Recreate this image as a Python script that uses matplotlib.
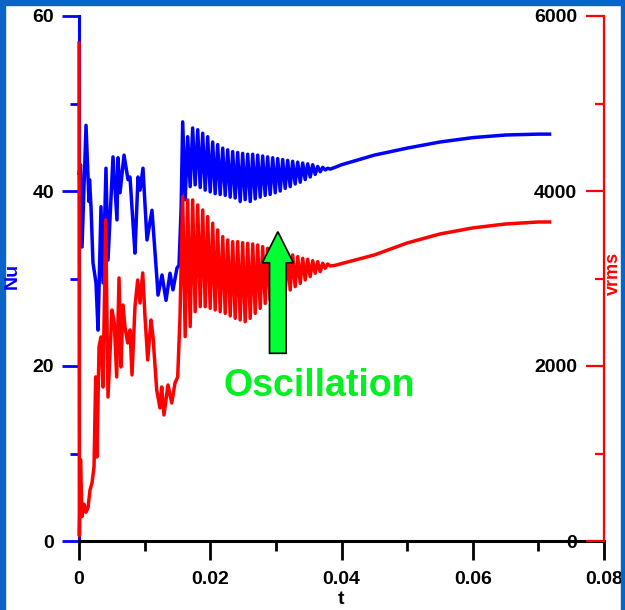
import numpy as np
import matplotlib
matplotlib.use('Agg')
import matplotlib.pyplot as plt
from matplotlib.patches import FancyArrow, Rectangle

plt.rcParams['font.family'] = ['Liberation Sans', 'DejaVu Sans']
plt.rcParams['font.weight'] = 'bold'

# early (chaotic) part
t_nu_early = [0.0, 0.00023, 0.00046, 0.00107, 0.00152, 0.00160, 0.00183, 0.00213, 0.00259,
              0.00290, 0.00335, 0.00366, 0.00411, 0.00442, 0.00518, 0.00579, 0.00594, 0.00625,
              0.00686, 0.00747, 0.00777, 0.00823, 0.00853, 0.00899, 0.00930, 0.00975, 0.01036,
              0.01112, 0.01189, 0.01204, 0.01265, 0.01326, 0.01387, 0.01432, 0.01493, 0.01524,
              0.01556]
nu_early = [42.0, 43.0, 33.6, 47.5, 38.8, 41.3, 38.2, 31.8, 29.5,
            24.1, 38.2, 29.5, 42.6, 32.1, 43.9, 36.7, 43.8, 39.8,
            44.1, 41.3, 41.6, 36.3, 32.9, 41.6, 40.1, 42.6, 34.4,
            37.8, 29.8, 28.1, 30.4, 27.5, 30.6, 28.7, 31.2, 31.5,
            38.0]

t_v_early = [0.0, 0.00006, 0.00023, 0.00046, 0.00076, 0.00107, 0.00137, 0.00168, 0.00198,
             0.00229, 0.00254, 0.00274, 0.00305, 0.00335, 0.00366, 0.00407, 0.00442, 0.00503,
             0.00538, 0.00574, 0.00610, 0.00640, 0.00670, 0.00701, 0.00742, 0.00777, 0.00808,
             0.00853, 0.00894, 0.00930, 0.00971, 0.01006, 0.01047, 0.01097, 0.01128, 0.01184,
             0.01234, 0.01260, 0.01295, 0.01356, 0.01413, 0.01463, 0.01504, 0.01539]
v_early = [5690, 60, 930, 280, 420, 330, 380, 583, 663,
           846, 1875, 960, 2218, 2332, 1760, 3669, 1646, 2640,
           2492, 1875, 3006, 1989, 2697, 2446, 2263, 2412, 1898,
           2675, 2983, 2720, 3063, 2560, 2069, 2526, 2332, 1726,
           1520, 1760, 1440, 1783, 1577, 1806, 1875, 2560]

# oscillation extrema
t_peaks = [0.0158, 0.01656, 0.01732, 0.01809, 0.01885, 0.01961, 0.02037, 0.02113, 0.0219, 0.02266,
           0.02342, 0.02418, 0.02494, 0.02571, 0.02647, 0.02723, 0.02799, 0.02875, 0.02952, 0.03028,
           0.03104, 0.0318, 0.03256, 0.03333, 0.03409, 0.03485, 0.03561, 0.03637, 0.03714, 0.0379]
t_troughs = [0.01618, 0.01694, 0.0177, 0.01847, 0.01923, 0.01999, 0.02075, 0.02151, 0.02228, 0.02304,
             0.0238, 0.02456, 0.02532, 0.02609, 0.02685, 0.02761, 0.02837, 0.02913, 0.0299, 0.03066,
             0.03142, 0.03218, 0.03294, 0.03371, 0.03447, 0.03523, 0.03599, 0.03675, 0.03752, 0.03828]
nu_peaks = [47.9, 46.2, 47.2, 47.0, 46.6, 46.2, 45.6, 45.3, 44.9, 44.7,
            44.5, 44.4, 44.3, 44.2, 44.2, 44.1, 44.0, 43.9, 43.8, 43.7,
            43.6, 43.5, 43.4, 43.3, 43.2, 43.1, 43.0, 42.8, 42.7, 42.6]
nu_troughs = [39.0, 40.5, 40.7, 40.4, 40.1, 39.9, 39.7, 39.6, 39.5, 39.3,
              39.2, 38.8, 39.0, 38.8, 39.1, 39.3, 39.5, 39.6, 39.8, 40.0,
              40.3, 40.5, 40.8, 41.0, 41.3, 41.6, 41.9, 42.2, 42.4, 42.5]
v_peaks = [3936, 3898, 3898, 3840, 3783, 3707, 3631, 3555, 3478, 3440,
           3421, 3421, 3410, 3402, 3395, 3383, 3364, 3345, 3326, 3307,
           3296, 3288, 3269, 3250, 3231, 3220, 3204, 3193, 3174, 3166]
v_troughs = [2336, 2450, 2621, 2678, 2678, 2659, 2640, 2621, 2602, 2572,
             2545, 2526, 2507, 2545, 2602, 2659, 2716, 2755, 2793, 2823,
             2850, 2869, 2907, 2945, 2983, 3021, 3060, 3078, 3117, 3143]

# smooth tail
t_tail = [0.0390, 0.0400, 0.0450, 0.0500, 0.0550, 0.0600, 0.0650, 0.0700, 0.0717]
nu_tail = [42.7, 43.0, 44.1, 44.9, 45.6, 46.1, 46.4, 46.5, 46.5]
v_tail = [3150, 3170, 3269, 3406, 3509, 3578, 3623, 3646, 3646]


def join(t0, y0, tp, yp, tt, yt, t1, y1):
    t = list(t0)
    y = list(y0)
    for a, b, c, d in zip(tp, yp, tt, yt):
        t += [a, c]
        y += [b, d]
    return np.array(t + list(t1)), np.array(y + list(y1))


t_nu, nu = join(t_nu_early, nu_early, t_peaks, nu_peaks, t_troughs, nu_troughs, t_tail, nu_tail)
t_v, vrms = join(t_v_early, v_early, t_peaks, v_peaks, t_troughs, v_troughs, t_tail, v_tail)

W, H = 625, 610
fig = plt.figure(figsize=(W / 100, H / 100), dpi=100, facecolor='white')
ax = fig.add_axes([79 / W, 1 - 541 / H, (604 - 79) / W, (541 - 16) / H])
ax2 = ax.twinx()

# slide frame
frame = '#0a64c8'
fig.patches.append(Rectangle((0, 1 - 5 / H), 1, 5 / H, transform=fig.transFigure, color=frame, zorder=0))
fig.patches.append(Rectangle((0, 0), 5 / W, 1, transform=fig.transFigure, color=frame, zorder=0))
fig.patches.append(Rectangle((1 - 4 / W, 0), 4 / W, 1, transform=fig.transFigure, color=frame, zorder=0))

ax.plot(t_nu, nu, color='#0000ff', lw=2.5, zorder=3, clip_on=False)
ax2.plot(t_v, vrms, color='#ff0000', lw=2.5, zorder=3, clip_on=False)

ax.set_xlim(0, 0.08)
ax.set_ylim(0, 60)
ax2.set_ylim(0, 6000)

ax.set_xticks([0, 0.02, 0.04, 0.06, 0.08])
ax.set_xticklabels(['0', '0.02', '0.04', '0.06', '0.08'])
ax.set_xticks([0.01, 0.03, 0.05, 0.07], minor=True)
ax.set_yticks([0, 20, 40, 60])
ax.set_yticks([10, 30, 50], minor=True)
ax2.set_yticks([0, 2000, 4000, 6000])
ax2.set_yticks([1000, 3000, 5000], minor=True)

for s in ['top', 'right']:
    ax.spines[s].set_visible(False)
for s in ['top', 'left', 'bottom']:
    ax2.spines[s].set_visible(False)
ax.spines['left'].set_color('#0000ff')
ax.spines['left'].set_linewidth(2.2)
ax.spines['bottom'].set_color('black')
ax.spines['bottom'].set_linewidth(2.2)
ax2.spines['right'].set_color('#ff0000')
ax2.spines['right'].set_linewidth(1.6)

ax.tick_params(axis='x', which='major', direction='out', length=13.5, width=2, color='black',
               labelsize=14, pad=8)
ax.tick_params(axis='x', which='minor', direction='out', length=7, width=2, color='black')
ax.tick_params(axis='y', which='major', direction='out', length=12, width=2, color='#0000ff',
               labelsize=14, pad=6)
ax.tick_params(axis='y', which='minor', direction='out', length=6.5, width=2, color='#0000ff')
ax2.tick_params(axis='y', which='major', direction='in', length=13, width=1.6, color='#ff0000',
                labelsize=14, pad=-19.4)
ax2.tick_params(axis='y', which='minor', direction='in', length=6.5, width=1.6, color='#ff0000')
plt.setp(ax2.get_yticklabels(), ha='right')

# arrow and label
arrow = FancyArrow(0.0303, 2145, 0, 3535 - 2145, width=0.00254, head_width=0.00472,
                   head_length=355, length_includes_head=True, facecolor='#00ff33',
                   edgecolor='black', lw=1.2, zorder=5)
ax2.add_patch(arrow)
ax2.text(0.0366, 1770, 'Oscillation', color='#00f020', fontsize=27, fontweight='bold',
         ha='center', va='center', zorder=6)

fig.text(341 / W, 1 - 600 / H, 't', fontsize=14, fontweight='bold', ha='center', va='center')
fig.text(12.5 / W, 1 - 276 / H, 'Nu', fontsize=14, fontweight='bold', color='#0000ff',
         rotation=90, ha='center', va='center')
fig.text(613 / W, 1 - 273 / H, 'vrms', fontsize=13, fontweight='bold', color='#ff0000',
         rotation=90, ha='center', va='center')

fig.savefig('out.png', dpi=100, facecolor='white')
